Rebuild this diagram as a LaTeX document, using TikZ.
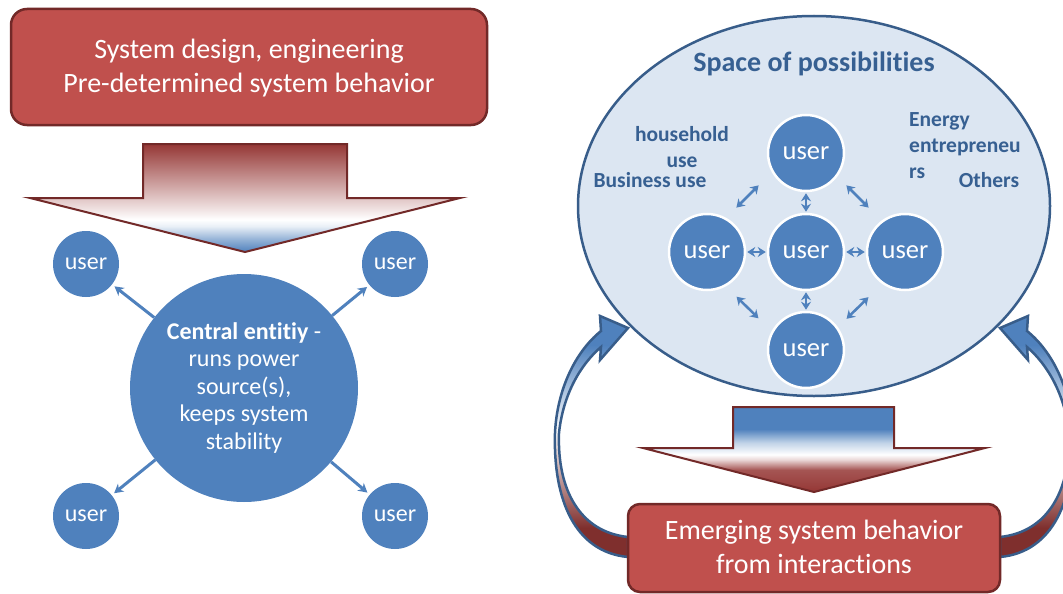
\documentclass[tikz,border=0pt]{standalone}
\usepackage{fontspec}
\setmainfont[Ligatures=NoCommon]{Carlito}
\usetikzlibrary{arrows.meta,shapes.geometric}
\definecolor{userblue}{HTML}{4F81BD}
\definecolor{boxred}{HTML}{C0504D}
\definecolor{boxborder}{HTML}{722928}
\definecolor{arrowred}{HTML}{953735}
\definecolor{spacefill}{HTML}{DCE6F2}
\definecolor{spaceborder}{HTML}{385D8A}
\definecolor{labelblue}{HTML}{376092}
\pgfdeclareverticalshading{designflow}{100bp}{color(0bp)=(userblue); color(25bp)=(userblue); color(31bp)=(userblue!60); color(37bp)=(userblue!12); color(40bp)=(white); color(44bp)=(arrowred!12); color(75bp)=(arrowred); color(100bp)=(arrowred)}
\pgfdeclareverticalshading{emergeflow}{100bp}{color(0bp)=(arrowred); color(25bp)=(arrowred); color(38bp)=(arrowred!85); color(44bp)=(arrowred!20); color(47bp)=(white); color(54bp)=(userblue!35); color(62bp)=(userblue); color(100bp)=(userblue)}
\pgfdeclareverticalshading{feedback}{100bp}{color(0bp)=(arrowred!85!black); color(25bp)=(arrowred!85!black); color(31bp)=(arrowred!85!black); color(51bp)=(white); color(69bp)=(userblue); color(100bp)=(userblue)}
\begin{document}
\begin{tikzpicture}[x=1pt,y=-1pt,
    redbox/.style={rectangle, rounded corners=16pt, draw=boxborder, line width=2.5pt, fill=boxred, text=white, align=center, font=\fontsize{28}{34}\selectfont},
    user/.style={circle, fill=userblue, text=white, minimum size=66pt, inner sep=0pt, font=\fontsize{24}{28}\selectfont},
    spaceuser/.style={circle, fill=userblue, draw=white, line width=2.5pt, text=white, minimum size=76pt, inner sep=0pt, font=\fontsize{26.5}{30}\selectfont},
    spacelabel/.style={text=labelblue, font=\bfseries\fontsize{21.5}{26}\selectfont, inner sep=0pt},
    outarrow/.style={-{Stealth[length=9pt,width=10pt]}, draw=userblue, line width=3pt, shorten >=3pt},
    linkarrow/.style={{Stealth[length=8pt,width=10pt]}-{Stealth[length=8pt,width=10pt]}, draw=userblue, line width=2.5pt, shorten >=1pt, shorten <=1pt},
    blockarrow/.style={draw=boxborder, line width=2pt, line join=miter, shade},
    loopback/.style={draw=spaceborder, line width=2.5pt, shade, shading=feedback}]
  \clip (0,0) rectangle (1063,594);
  \fill[white] (0,0) rectangle (1063,594);

  \node[redbox, minimum width=476pt, minimum height=116pt, text depth=3pt] (design) at (249,67) {System design, engineering\\Pre-determined system behavior};
  \draw[blockarrow, shading=designflow] (143,144) -- (347,144) -- (347,198) -- (460,198) -- (245,252) -- (30,198) -- (143,198) -- cycle;

  \node[user, minimum size=228pt, font=\fontsize{24}{27.5}\selectfont, align=center] (hub) at (244,388) {\textbf{Central entitiy} -\\runs power\\source(s),\\keeps system\\stability};
  \node[user] (u1) at (86,264) {user};
  \node[user] (u2) at (395,264) {user};
  \node[user] (u3) at (86,516) {user};
  \node[user] (u4) at (395,516) {user};
  \foreach \u in {u1,u2,u3,u4}
    \draw[outarrow] (hub) -- (\u);

  \node[ellipse, draw=spaceborder, line width=2.5pt, fill=spacefill, minimum width=472pt, minimum height=380pt, inner sep=0pt] (space) at (814,206) {};
  \node[text=labelblue, font=\bfseries\fontsize{28}{34}\selectfont, inner sep=0pt] (spacetitle) at (814,64) {Space of possibilities};
  \node[spacelabel, align=center] (household) at (682,147) {household\\use};
  \node[spacelabel] (business) at (650,180) {Business use};
  \node[spacelabel, align=left, anchor=west] (energy) at (909,146) {Energy\\entrepreneu\\rs};
  \node[spacelabel] (others) at (989,180) {Others};

  \node[spaceuser] (uc) at (806,252) {user};
  \node[spaceuser] (ut) at (806,153) {user};
  \node[spaceuser] (ul) at (707,252) {user};
  \node[spaceuser] (ur) at (905,252) {user};
  \node[spaceuser] (ub) at (806,350) {user};
  \draw[linkarrow] (ut) -- (uc);
  \draw[linkarrow] (ul) -- (uc);
  \draw[linkarrow] (uc) -- (ur);
  \draw[linkarrow] (uc) -- (ub);
  \draw[linkarrow, shorten >=15pt, shorten <=15pt, transform canvas={shift={(-9pt,6pt)}}] (ul) -- (ut);
  \draw[linkarrow, shorten >=15pt, shorten <=15pt, transform canvas={shift={(2pt,6pt)}}] (ut) -- (ur);
  \draw[linkarrow, shorten >=15pt, shorten <=15pt, transform canvas={shift={(-9pt,-6.5pt)}}] (ul) -- (ub);
  \draw[linkarrow, shorten >=15pt, shorten <=15pt, transform canvas={shift={(2pt,-7pt)}}] (ub) -- (ur);

  \draw[blockarrow, shading=emergeflow] (733,407) -- (894,407) -- (894,448) -- (985,448) -- (814,492) -- (643,448) -- (733,448) -- cycle;

  \draw[loopback] (628,557) .. controls (575,552) and (553,500) .. (555,433) .. controls (557,390) and (575,352) .. (601,331) -- (600,316) -- (628,328) -- (600,360) -- (601,347) .. controls (580,365) and (563,395) .. (559,433) .. controls (557,490) and (580,532) .. (628,537) -- cycle;
  \draw[loopback] (1000,557) .. controls (1053,552) and (1075,500) .. (1073,433) .. controls (1071,390) and (1053,352) .. (1027,331) -- (1028,316) -- (1000,328) -- (1028,360) -- (1027,347) .. controls (1048,365) and (1065,395) .. (1069,433) .. controls (1071,490) and (1048,532) .. (1000,537) -- cycle;

  \node[redbox, rounded corners=12pt, minimum width=372pt, minimum height=88pt, text depth=3pt] (emerge) at (814,548) {Emerging system behavior\\from interactions};
\end{tikzpicture}
\end{document}
